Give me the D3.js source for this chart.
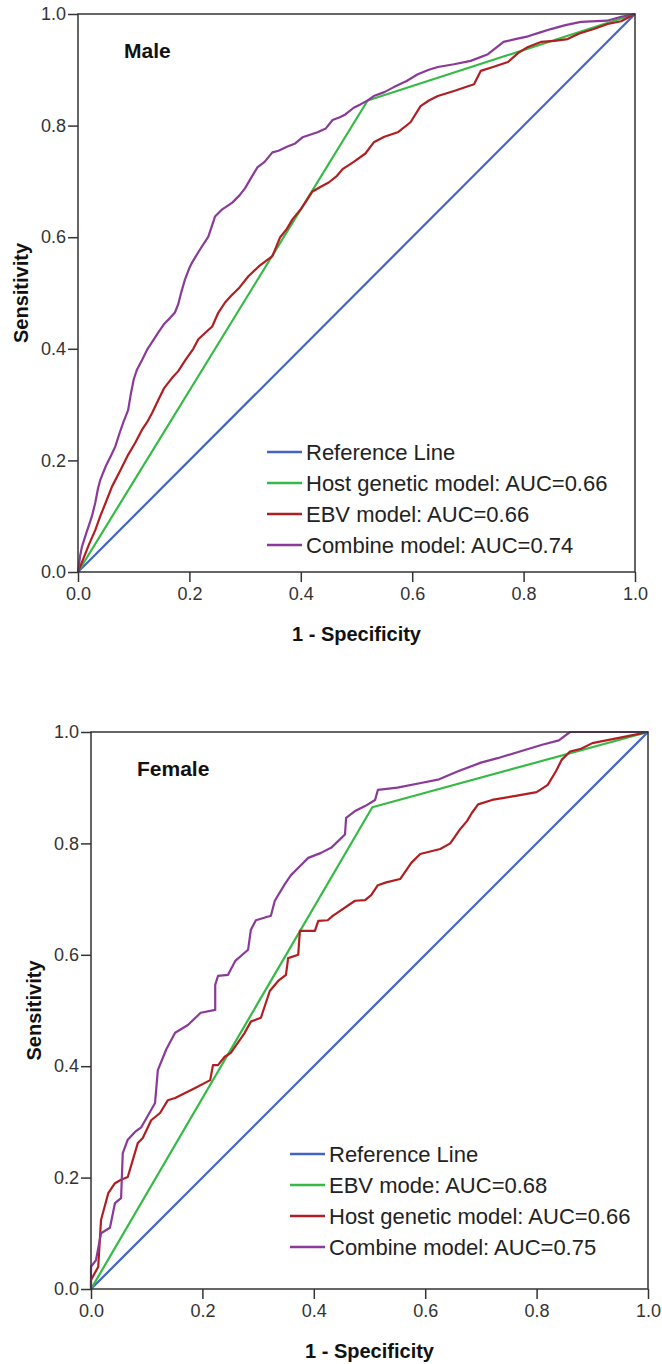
<!DOCTYPE html>
<html>
<head>
<meta charset="utf-8">
<script src="https://cdn.jsdelivr.net/npm/d3@7"></script>
<style>
  body { margin: 0; background: #fff; }
  text { font-family: "Liberation Sans", Arial, sans-serif; }
</style>
</head>
<body>
<div id="chart"></div>
<script>
// ticks shared by both panels
var tickValues = [0, 0.2, 0.4, 0.6, 0.8, 1.0];

// reference diagonal
var referenceLine = [[0, 0], [1, 1]];

// Male panel, [1 - specificity, sensitivity]
var maleHost = [[0, 0], [0.52, 0.845], [1, 1]];
var maleEbv = [[0,0],[0.01,0.025],[0.02,0.05],[0.031,0.075],[0.04,0.1],[0.05,0.125],[0.061,0.153],[0.075,0.18],[0.09,0.21],[0.103,0.232],[0.115,0.255],[0.125,0.27],[0.133,0.285],[0.145,0.31],[0.155,0.33],[0.169,0.348],[0.18,0.36],[0.193,0.38],[0.207,0.4],[0.216,0.417],[0.23,0.43],[0.241,0.44],[0.252,0.465],[0.264,0.483],[0.275,0.495],[0.29,0.51],[0.306,0.53],[0.325,0.548],[0.349,0.566],[0.363,0.6],[0.375,0.615],[0.385,0.632],[0.4,0.65],[0.41,0.665],[0.421,0.682],[0.435,0.69],[0.45,0.698],[0.465,0.71],[0.475,0.722],[0.495,0.735],[0.516,0.75],[0.531,0.77],[0.55,0.78],[0.574,0.788],[0.597,0.806],[0.615,0.835],[0.63,0.845],[0.646,0.853],[0.675,0.862],[0.711,0.874],[0.723,0.898],[0.745,0.905],[0.772,0.914],[0.79,0.93],[0.808,0.941],[0.831,0.95],[0.855,0.952],[0.879,0.955],[0.9,0.965],[0.926,0.973],[0.951,0.982],[0.975,0.987],[1,1]];
var maleCombine = [[0,0],[0.004,0.03],[0.007,0.045],[0.015,0.07],[0.02,0.085],[0.025,0.1],[0.031,0.124],[0.036,0.15],[0.04,0.165],[0.05,0.19],[0.06,0.21],[0.067,0.225],[0.075,0.25],[0.082,0.27],[0.09,0.29],[0.095,0.32],[0.1,0.345],[0.106,0.363],[0.115,0.38],[0.125,0.4],[0.135,0.415],[0.144,0.429],[0.155,0.445],[0.165,0.455],[0.174,0.465],[0.18,0.48],[0.185,0.5],[0.192,0.524],[0.2,0.545],[0.205,0.555],[0.219,0.578],[0.234,0.601],[0.246,0.637],[0.259,0.65],[0.277,0.662],[0.29,0.675],[0.3,0.688],[0.31,0.705],[0.322,0.725],[0.335,0.735],[0.349,0.752],[0.36,0.755],[0.375,0.762],[0.39,0.768],[0.403,0.779],[0.43,0.788],[0.445,0.795],[0.457,0.81],[0.47,0.815],[0.48,0.82],[0.495,0.832],[0.507,0.838],[0.52,0.845],[0.531,0.853],[0.55,0.86],[0.567,0.869],[0.59,0.88],[0.61,0.892],[0.63,0.9],[0.646,0.905],[0.675,0.91],[0.705,0.916],[0.736,0.928],[0.764,0.95],[0.785,0.955],[0.808,0.96],[0.83,0.967],[0.849,0.973],[0.875,0.98],[0.903,0.986],[0.95,0.988],[0.975,0.995],[1,1]];
var maleLabels = ["Reference Line", "Host genetic model: AUC=0.66", "EBV model: AUC=0.66", "Combine model: AUC=0.74"];

// Female panel
var femaleEbv = [[0, 0], [0.505, 0.865], [1, 1]];
var femaleHost = [[0,0],[0,0.016],[0.013,0.04],[0.018,0.124],[0.031,0.172],[0.043,0.19],[0.054,0.196],[0.066,0.201],[0.084,0.262],[0.093,0.271],[0.108,0.303],[0.124,0.316],[0.138,0.339],[0.151,0.343],[0.187,0.361],[0.214,0.375],[0.219,0.402],[0.228,0.402],[0.24,0.417],[0.251,0.424],[0.276,0.46],[0.287,0.48],[0.305,0.487],[0.321,0.535],[0.336,0.553],[0.35,0.564],[0.354,0.594],[0.372,0.6],[0.375,0.643],[0.402,0.643],[0.408,0.661],[0.425,0.662],[0.434,0.67],[0.474,0.697],[0.492,0.698],[0.503,0.707],[0.515,0.725],[0.53,0.73],[0.555,0.736],[0.575,0.765],[0.591,0.781],[0.627,0.79],[0.645,0.8],[0.663,0.826],[0.675,0.84],[0.684,0.855],[0.695,0.87],[0.72,0.878],[0.76,0.885],[0.8,0.892],[0.82,0.905],[0.835,0.93],[0.845,0.95],[0.86,0.965],[0.88,0.97],[0.9,0.98],[0.95,0.99],[1,1]];
var femaleCombine = [[0,0],[0,0.04],[0.009,0.052],[0.018,0.1],[0.034,0.11],[0.043,0.154],[0.054,0.163],[0.057,0.244],[0.066,0.268],[0.079,0.282],[0.09,0.29],[0.115,0.334],[0.12,0.393],[0.135,0.43],[0.151,0.46],[0.174,0.474],[0.197,0.496],[0.223,0.501],[0.223,0.546],[0.228,0.562],[0.246,0.564],[0.259,0.589],[0.282,0.609],[0.287,0.645],[0.296,0.662],[0.323,0.67],[0.33,0.697],[0.348,0.727],[0.359,0.743],[0.375,0.759],[0.39,0.774],[0.413,0.783],[0.431,0.792],[0.456,0.816],[0.458,0.846],[0.474,0.858],[0.492,0.867],[0.51,0.878],[0.515,0.896],[0.55,0.9],[0.59,0.908],[0.625,0.915],[0.66,0.93],[0.7,0.945],[0.73,0.953],[0.77,0.965],[0.81,0.977],[0.84,0.985],[0.86,1],[1,1]];
var femaleLabels = ["Reference Line", "EBV mode: AUC=0.68", "Host genetic model: AUC=0.66", "Combine model: AUC=0.75"];

var lineColors = ["#4264c4", "#35bb45", "#b01e22", "#8a3a98"];

var svg = d3.select("#chart").append("svg")
    .attr("width", 662)
    .attr("height", 1364);

var panels = [
    {title: "Male", left: 78, right: 635, top: 14, bottom: 572,
     series: [referenceLine, maleHost, maleEbv, maleCombine], labels: maleLabels,
     legendX: 267, legendY: 452},
    {title: "Female", left: 91, right: 648, top: 732, bottom: 1289,
     series: [referenceLine, femaleEbv, femaleHost, femaleCombine], labels: femaleLabels,
     legendX: 290, legendY: 1154}
];

panels.forEach(function (p) {
    var x = d3.scaleLinear().domain([0, 1]).range([p.left, p.right]);
    var y = d3.scaleLinear().domain([0, 1]).range([p.bottom, p.top]);

    var g = svg.append("g");

    var yAxis = g.append("g")
        .attr("transform", "translate(" + p.left + ",0)")
        .call(d3.axisLeft(y).tickValues(tickValues).tickSize(10).tickPadding(2).tickFormat(d3.format(".1f")));
    var xAxis = g.append("g")
        .attr("transform", "translate(0," + p.bottom + ")")
        .call(d3.axisBottom(x).tickValues(tickValues).tickSize(10).tickPadding(5).tickFormat(d3.format(".1f")));

    [xAxis, yAxis].forEach(function (a) {
        a.select(".domain").remove();
        a.selectAll("line").attr("stroke", "#333").attr("stroke-width", 1.5);
        a.selectAll("text")
            .style("font-size", "18px")
            .style("font-family", "'Liberation Sans', Arial, sans-serif")
            .attr("fill", "#333");
    });

    // lines
    var line = d3.line()
        .x(function (d) { return x(d[0]); })
        .y(function (d) { return y(d[1]); });

    g.selectAll(".roc")
        .data(p.series)
        .enter().append("path")
        .attr("class", "roc")
        .attr("d", line)
        .attr("fill", "none")
        .attr("stroke", function (d, i) { return lineColors[i]; })
        .attr("stroke-width", 2.2)
        .attr("stroke-linejoin", "round");

    // frame
    g.append("rect")
        .attr("x", p.left)
        .attr("y", p.top)
        .attr("width", p.right - p.left)
        .attr("height", p.bottom - p.top)
        .attr("fill", "none")
        .attr("stroke", "#333")
        .attr("stroke-width", 1.5);

    g.append("text")
        .attr("x", p.left + 46)
        .attr("y", p.top + 44)
        .style("font-size", "21px")
        .style("font-weight", "bold")
        .attr("fill", "#111")
        .text(p.title);

    // legend
    var legend = g.selectAll(".legend")
        .data(p.labels)
        .enter().append("g")
        .attr("class", "legend")
        .attr("transform", function (d, i) {
            return "translate(" + p.legendX + "," + (p.legendY + i * 31) + ")";
        });

    legend.append("line")
        .attr("x1", 0)
        .attr("x2", 35)
        .attr("stroke", function (d, i) { return lineColors[i]; })
        .attr("stroke-width", 2.5);

    legend.append("text")
        .attr("x", 39)
        .attr("dy", "0.35em")
        .style("font-size", "22px")
        .attr("fill", "#222")
        .text(function (d) { return d; });

    // axis titles
    g.append("text")
        .attr("transform", "translate(" + (p.left - 57) + "," + ((p.top + p.bottom) / 2) + ") rotate(-90)")
        .attr("text-anchor", "middle")
        .attr("dy", "0.35em")
        .style("font-size", "20px")
        .style("font-weight", "bold")
        .attr("fill", "#111")
        .text("Sensitivity");

    g.append("text")
        .attr("x", (p.left + p.right) / 2)
        .attr("y", p.bottom + 69)
        .attr("text-anchor", "middle")
        .style("font-size", "20px")
        .style("font-weight", "bold")
        .attr("fill", "#111")
        .text("1 - Specificity");
});
</script>
</body>
</html>
